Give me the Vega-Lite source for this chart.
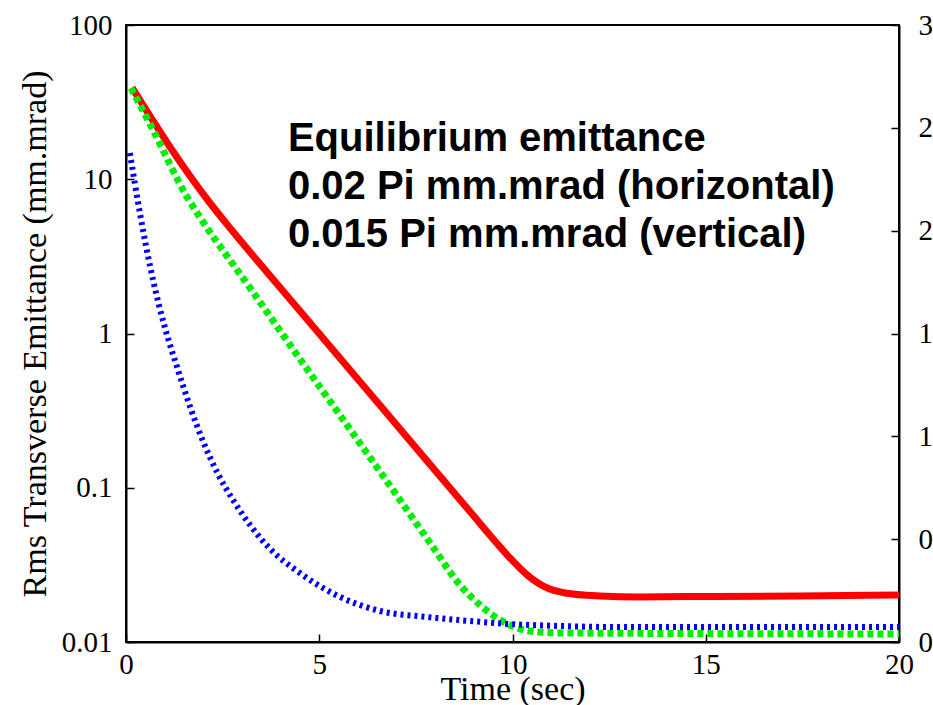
{
  "$schema": "https://vega.github.io/schema/vega-lite/v6.json",
  "width": 773,
  "height": 617,
  "autosize": {"type": "none"},
  "padding": {"left": 126, "top": 25, "right": 34, "bottom": 63},
  "background": "white",
  "config": {
    "view": {"stroke": "black", "strokeWidth": 2},
    "axis": {
      "grid": false,
      "domainColor": "black",
      "domainWidth": 2,
      "tickColor": "black",
      "tickWidth": 1.5,
      "tickSize": -8,
      "labelColor": "black",
      "titleColor": "black",
      "labelFont": "Liberation Serif",
      "titleFont": "Liberation Serif",
      "labelFontSize": 29,
      "titleFontSize": 34,
      "titleFontWeight": "normal",
      "labelOverlap": false,
      "labelFlush": false
    }
  },
  "datasets": {
    "curves": [
      {"t": 0.155, "v": 39.3, "s": "h"},
      {"t": 0.621, "v": 25.7, "s": "h"},
      {"t": 1.138, "v": 16.19, "s": "h"},
      {"t": 1.656, "v": 10.5, "s": "h"},
      {"t": 2.173, "v": 7.015, "s": "h"},
      {"t": 2.691, "v": 4.831, "s": "h"},
      {"t": 3.208, "v": 3.376, "s": "h"},
      {"t": 4.502, "v": 1.399, "s": "h"},
      {"t": 5.796, "v": 0.58, "s": "h"},
      {"t": 7.089, "v": 0.2404, "s": "h"},
      {"t": 8.9, "v": 0.07004, "s": "h"},
      {"t": 9.599, "v": 0.04352, "s": "h"},
      {"t": 9.935, "v": 0.03505, "s": "h"},
      {"t": 10.38, "v": 0.02719, "s": "h"},
      {"t": 10.84, "v": 0.02274, "s": "h"},
      {"t": 11.36, "v": 0.02079, "s": "h"},
      {"t": 12.26, "v": 0.01988, "s": "h"},
      {"t": 13.3, "v": 0.01958, "s": "h"},
      {"t": 14.85, "v": 0.01973, "s": "h"},
      {"t": 17.44, "v": 0.01988, "s": "h"},
      {"t": 20, "v": 0.02017, "s": "h"},

      {"t": 0.13, "v": 39.05, "s": "v"},
      {"t": 0.7, "v": 20.86, "s": "v"},
      {"t": 1.58, "v": 7.67, "s": "v"},
      {"t": 1.91, "v": 5.69, "s": "v"},
      {"t": 3.21, "v": 1.972, "s": "v"},
      {"t": 4.5, "v": 0.6835, "s": "v"},
      {"t": 5.8, "v": 0.2385, "s": "v"},
      {"t": 7.09, "v": 0.0833, "s": "v"},
      {"t": 7.94, "v": 0.0413, "s": "v"},
      {"t": 8.64, "v": 0.0234, "s": "v"},
      {"t": 9.16, "v": 0.01738, "s": "v"},
      {"t": 9.68, "v": 0.01388, "s": "v"},
      {"t": 10.06, "v": 0.01251, "s": "v"},
      {"t": 10.45, "v": 0.01178, "s": "v"},
      {"t": 11.23, "v": 0.01144, "s": "v"},
      {"t": 20, "v": 0.01127, "s": "v"},

      {"t": 0.1, "v": 14.8, "s": "l"},
      {"t": 0.36, "v": 6.04, "s": "l"},
      {"t": 0.7, "v": 2.222, "s": "l"},
      {"t": 1.01, "v": 1.086, "s": "l"},
      {"t": 1.32, "v": 0.6065, "s": "l"},
      {"t": 1.66, "v": 0.3338, "s": "l"},
      {"t": 1.99, "v": 0.201, "s": "l"},
      {"t": 2.38, "v": 0.1228, "s": "l"},
      {"t": 2.77, "v": 0.0833, "s": "l"},
      {"t": 3.21, "v": 0.0573, "s": "l"},
      {"t": 3.73, "v": 0.0401, "s": "l"},
      {"t": 4.5, "v": 0.028, "s": "l"},
      {"t": 5.54, "v": 0.01958, "s": "l"},
      {"t": 6.57, "v": 0.01589, "s": "l"},
      {"t": 7.79, "v": 0.01453, "s": "l"},
      {"t": 8.9, "v": 0.01368, "s": "l"},
      {"t": 9.94, "v": 0.01308, "s": "l"},
      {"t": 11.23, "v": 0.0127, "s": "l"},
      {"t": 12.78, "v": 0.0125, "s": "l"},
      {"t": 20, "v": 0.0125, "s": "l"}
    ],
    "notes": [
      {"t": 4.19, "v": 15.24, "label": "Equilibrium emittance"},
      {"t": 4.19, "v": 7.45, "label": "0.02 Pi mm.mrad (horizontal)"},
      {"t": 4.19, "v": 3.64, "label": "0.015 Pi mm.mrad (vertical)"}
    ],
    "rightTicks": [{"r": 0}, {"r": 3}]
  },
  "layer": [
    {
      "data": {"name": "curves"},
      "encoding": {
        "x": {
          "field": "t",
          "type": "quantitative",
          "scale": {"domain": [0, 20], "nice": false, "zero": false},
          "axis": {
            "title": "Time (sec)",
            "values": [0, 5, 10, 15, 20],
            "labelPadding": 16,
            "titlePadding": -7
          }
        },
        "y": {
          "field": "v",
          "type": "quantitative",
          "scale": {"type": "log", "domain": [0.01, 100], "nice": false},
          "axis": {
            "title": "Rms Transverse Emittance (mm.mrad)",
            "values": [0.01, 0.1, 1, 10, 100],
            "format": "~g",
            "labelPadding": 22,
            "titlePadding": 9
          }
        }
      },
      "layer": [
        {
          "transform": [{"filter": "datum.s === 'h'"}],
          "mark": {"type": "line", "color": "#ff0000", "strokeWidth": 7, "interpolate": "monotone", "clip": true}
        },
        {
          "transform": [{"filter": "datum.s === 'v'"}],
          "mark": {"type": "line", "color": "#00ee00", "strokeWidth": 7, "strokeDash": [6, 4], "interpolate": "monotone", "clip": true}
        },
        {
          "transform": [{"filter": "datum.s === 'l'"}],
          "mark": {"type": "line", "color": "#0000ff", "strokeWidth": 6, "strokeDash": [3, 4], "interpolate": "monotone", "clip": true}
        },
        {
          "data": {"name": "notes"},
          "mark": {
            "type": "text",
            "align": "left",
            "baseline": "alphabetic",
            "font": "Liberation Sans",
            "fontWeight": "bold",
            "fontSize": 40,
            "color": "black"
          },
          "encoding": {"text": {"field": "label"}}
        }
      ]
    },
    {
      "data": {"name": "rightTicks"},
      "mark": {"type": "point", "opacity": 0},
      "encoding": {
        "y": {
          "field": "r",
          "type": "quantitative",
          "scale": {"domain": [0, 3], "nice": false, "zero": false},
          "axis": {
            "orient": "right",
            "title": null,
            "values": [0, 0.5, 1, 1.5, 2, 2.5, 3],
            "labelExpr": "format(floor(datum.value), 'd')",
            "labelPadding": 27
          }
        }
      }
    }
  ],
  "resolve": {"scale": {"y": "independent"}, "axis": {"y": "independent"}}
}
